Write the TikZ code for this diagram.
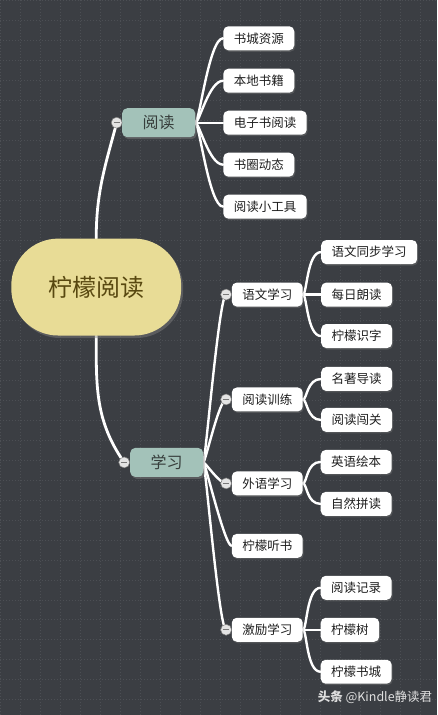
\documentclass[tikz,border=0pt]{standalone}
\usepackage{fontspec}
\setmainfont{Noto Sans CJK SC}
\usepackage{xcolor}
\usepackage{tikz}
\usetikzlibrary{shadows, backgrounds}
\definecolor{MapBack}{RGB}{59, 62, 67}
\definecolor{MapGrid}{RGB}{76, 79, 84}
\definecolor{RootFill}{RGB}{232, 220, 150}
\definecolor{RootText}{RGB}{88, 72, 16}
\definecolor{TopicFill}{RGB}{163, 194, 185}
\definecolor{TopicText}{RGB}{55, 62, 60}
\definecolor{LeafText}{RGB}{30, 30, 30}
\definecolor{KnobFill}{RGB}{228, 228, 228}
\definecolor{KnobLine}{RGB}{120, 120, 120}
\pgfdeclarelayer{canvas}
\pgfsetlayers{canvas,background,main}

\tikzset{
  rootbox/.style={
    rounded corners=47pt, fill=RootFill, text=RootText,
    minimum width=170pt, minimum height=97pt, inner sep=0pt,
    font=\fontsize{24}{26}\selectfont,
    drop shadow={shadow xshift=2pt, shadow yshift=-2.5pt, opacity=0.45}
  },
  topicbox/.style={
    rounded corners=5pt, fill=TopicFill, text=TopicText,
    minimum width=73pt, minimum height=29pt, inner sep=0pt,
    font=\fontsize{16}{18}\selectfont,
    drop shadow={shadow xshift=1.5pt, shadow yshift=-2pt, opacity=0.45}
  },
  leafbox/.style={
    rounded corners=5pt, fill=white, text=LeafText, anchor=west,
    minimum height=24pt, inner xsep=10.5pt, inner ysep=0pt,
    font=\fontsize{12.5}{14}\selectfont,
    drop shadow={shadow xshift=1pt, shadow yshift=-1.5pt, opacity=0.35}
  },
  knob/.style={
    circle, fill=KnobFill, draw=KnobLine, line width=0.5pt,
    minimum size=11pt, inner sep=0pt,
    path picture={\draw[KnobLine, line width=0.9pt]
      ([xshift=-3.2pt]path picture bounding box.center) --
      ([xshift=3.2pt]path picture bounding box.center);}
  },
  branch/.style={draw=white, line width=2.4pt, line cap=round},
  trunk/.style={draw=white, line width=2.8pt, line cap=round},
  fan/.style={out=0, in=180, out distance=4pt, in distance=14pt},
  steep/.style={out=0, in=180, out distance=2pt, in distance=7pt},
  credit/.style={text=white!88!black, font=\fontsize{12.5}{14}\selectfont}
}

\begin{document}
\begin{tikzpicture}[x=1pt, y=1pt]
  % background
  \begin{pgfonlayer}{canvas}
    \fill[MapBack] (0,0) rectangle (437,-715);
    \draw[MapGrid, line width=0.6pt, dash pattern=on 1.2pt off 1.8pt, step=20pt]
      (0,0) grid (437,-715);
  \end{pgfonlayer}
  \useasboundingbox (0,0) rectangle (437,-715);

  % root and main topics
  \node[rootbox] (root) at (96,-287) {柠檬阅读};
  \node[topicbox] (yuedu) at (158.5,-122.5) {阅读};
  \node[topicbox] (xuexi) at (166.5,-462.5) {学习};
  \node[knob] (kn-yuedu) at (116.5,-122.5) {};
  \node[knob] (kn-xuexi) at (124,-462.5) {};

  % reading branch
  \node[leafbox] (shucheng) at (223,-38) {书城资源};
  \node[leafbox] (bendi) at (223,-80.5) {本地书籍};
  \node[leafbox] (dianzi) at (223,-122.5) {电子书阅读};
  \node[leafbox] (shuquan) at (223,-164.5) {书圈动态};
  \node[leafbox] (gongju) at (223,-206.5) {阅读小工具};

  % learning branch
  \node[leafbox] (yuwen) at (231.5,-294.5) {语文学习};
  \node[leafbox] (xunlian) at (231.5,-399.5) {阅读训练};
  \node[leafbox] (waiyu) at (231.5,-483.5) {外语学习};
  \node[leafbox] (tingshu) at (231.5,-546) {柠檬听书};
  \node[leafbox] (jili) at (231.5,-630) {激励学习};
  \node[knob] (kn-yuwen) at (226,-294.5) {};
  \node[knob] (kn-xunlian) at (226,-399.5) {};
  \node[knob] (kn-waiyu) at (226,-483.5) {};
  \node[knob] (kn-jili) at (226,-630) {};

  \node[leafbox] (tongbu) at (321,-252) {语文同步学习};
  \node[leafbox] (langdu) at (321,-294.5) {每日朗读};
  \node[leafbox] (shizi) at (321,-336) {柠檬识字};
  \node[leafbox] (mingzhu) at (321,-379) {名著导读};
  \node[leafbox] (chuangguan) at (321,-420) {阅读闯关};
  \node[leafbox] (huiben) at (320.5,-462) {英语绘本};
  \node[leafbox] (pindu) at (320.5,-504) {自然拼读};
  \node[leafbox] (jilu) at (320.5,-588) {阅读记录};
  \node[leafbox] (ningmengshu) at (320.5,-630) {柠檬树};
  \node[leafbox] (shucheng2) at (320.5,-672) {柠檬书城};

  \node[credit] (toutiao) at (375,-698) {\textbf{头条} @Kindle静读君};

  % connectors
  \begin{pgfonlayer}{background}
    \draw[trunk] (root.north) to[out=90, in=255] (kn-yuedu.center);
    \draw[trunk] (root.south) to[out=-90, in=125] (kn-xuexi.center);
    \foreach \leaf in {shucheng, bendi, dianzi, shuquan, gongju}
      \draw[branch] (yuedu.east) to[fan] (\leaf.west);
    \foreach \sub in {kn-yuwen.center, kn-xunlian.center, kn-waiyu.center,
                      tingshu.west, kn-jili.center}
      \draw[branch] (xuexi.east) to[steep] (\sub);
    \foreach \leaf in {tongbu, langdu, shizi}
      \draw[branch] (yuwen.east) to[fan] (\leaf.west);
    \foreach \leaf in {mingzhu, chuangguan}
      \draw[branch] (xunlian.east) to[fan] (\leaf.west);
    \foreach \leaf in {huiben, pindu}
      \draw[branch] (waiyu.east) to[fan] (\leaf.west);
    \foreach \leaf in {jilu, ningmengshu, shucheng2}
      \draw[branch] (jili.east) to[fan] (\leaf.west);
  \end{pgfonlayer}
\end{tikzpicture}
\end{document}
